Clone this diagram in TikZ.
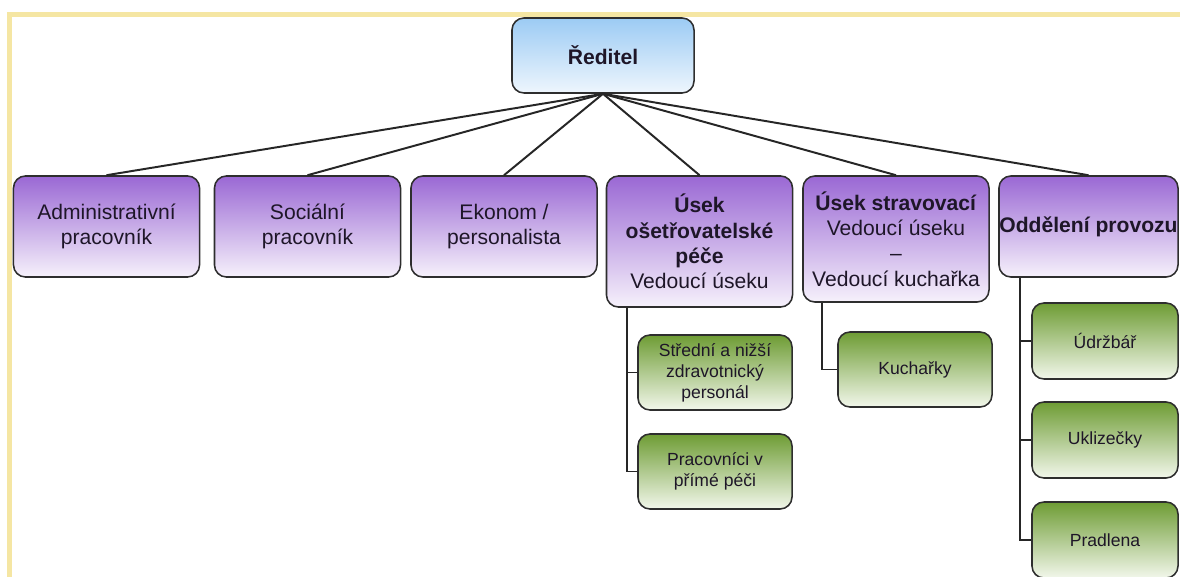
\documentclass[tikz,border=0pt]{standalone}
\usepackage{fontspec}
\setmainfont{Liberation Sans}

\definecolor{rimyellow}{HTML}{F5E6A3}
\definecolor{bluetop}{HTML}{9CCBF4}
\definecolor{bluebot}{HTML}{EEF6FD}
\definecolor{violettop}{HTML}{9A68D4}
\definecolor{violetbot}{HTML}{F6F1FB}
\definecolor{greentop}{HTML}{6E9C34}
\definecolor{greenbot}{HTML}{F2F7EB}
\definecolor{edge}{HTML}{2E2E2E}
\definecolor{ink}{HTML}{1E1628}

\begin{document}
\begin{tikzpicture}[x=0.025cm,y=-0.025cm,
    box/.style={draw=edge,line width=1.1pt,rounded corners=0.3cm,align=center,text=ink,inner sep=2pt},
    head/.style={box,top color=bluetop,bottom color=bluebot,minimum width=4.55cm,minimum height=1.875cm,font=\fontsize{15}{18}\selectfont\bfseries},
    unit/.style={box,top color=violettop,bottom color=violetbot,minimum width=4.65cm,minimum height=2.525cm,font=\fontsize{15}{18}\selectfont},
    team/.style={box,top color=greentop,bottom color=greenbot,minimum width=3.85cm,minimum height=1.875cm,font=\fontsize{12.5}{15}\selectfont},
    link/.style={draw=black!85,line width=1.4pt}]
    \useasboundingbox (0,0) rectangle (1180,577);
    \clip (0,0) rectangle (1180,577);
    \draw[rimyellow,line width=3.6pt] (9.5,577) -- (9.5,14.5) -- (1180,14.5);

    \node[head] (boss) at (603,55.5) {Ředitel};

    \node[unit] (adm) at (106.5,226.5) {Administrativní\\pracovník};
    \node[unit] (soc) at (307.5,226.5) {Sociální\\pracovník};
    \node[unit] (eko) at (504,226.5) {Ekonom /\\personalista};
    \node[unit,minimum height=3.275cm] (ose) at (699.5,241.5)
      {\textbf{Úsek}\\\textbf{ošetřovatelské}\\\textbf{péče}\\Vedoucí úseku};
    \node[unit,minimum height=3.15cm] (stra) at (896,239)
      {\textbf{Úsek stravovací}\\Vedoucí úseku\\–\\Vedoucí kuchařka};
    \node[unit,minimum width=4.475cm] (odd) at (1088.5,226.5)
      {\makebox[0pt][c]{\textbf{Oddělení provozu}}};

    \node[team] (stred) at (715,372.5) {Střední a nižší\\zdravotnický\\personál};
    \node[team] (prac) at (715,471.5) {Pracovníci v\\přímé péči};
    \node[team] (kuch) at (915,369.5) {Kuchařky};
    \node[team,minimum width=3.65cm,minimum height=1.9cm] (udr) at (1105,341) {Údržbář};
    \node[team,minimum width=3.65cm,minimum height=1.9cm] (ukl) at (1105,440) {Uklizečky};
    \node[team,minimum width=3.65cm,minimum height=1.9cm] (pra) at (1105,540) {Pradlena};

    % ředitel to the departments
    \foreach \dept in {adm,soc,eko,ose,stra,odd}
      \draw[link] (boss.south) -- (\dept.north);

    % departments to their staff
    \draw[link] (ose.south west) ++(21,0) |- (stred.west);
    \draw[link] (ose.south west) ++(21,0) |- (prac.west);
    \draw[link] (stra.south west) ++(20,0) |- (kuch.west);
    \draw[link] (odd.south west) ++(22,0) |- (udr.west);
    \draw[link] (odd.south west) ++(22,0) |- (ukl.west);
    \draw[link] (odd.south west) ++(22,0) |- (pra.west);
  \end{tikzpicture}
\end{document}
